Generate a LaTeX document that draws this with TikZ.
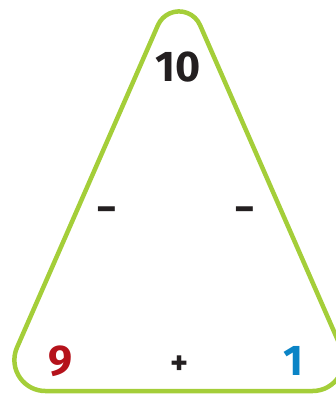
\documentclass[tikz,border=0pt]{standalone}
\usepackage{fontspec}
\setmainfont{Fira Sans}
\definecolor{tgreen}{RGB}{164,206,57}
\definecolor{tred}{RGB}{181,18,27}
\definecolor{tblue}{RGB}{10,132,198}
\definecolor{tblack}{RGB}{35,31,32}
\begin{document}
\begin{tikzpicture}[x=1pt,y=-1pt,
  num/.style={font=\fontsize{43}{43}\selectfont\bfseries, inner sep=0pt, anchor=base, text=tblack},
  sign/.style={font=\fontsize{40}{40}\selectfont\bfseries, inner sep=0pt, anchor=base, text=tblack},
  psign/.style={font=\fontsize{34}{34}\selectfont\bfseries, inner sep=0pt, anchor=base, text=tblack},
  frame/.style={draw=tgreen, line width=4.5pt, line join=round}]
\useasboundingbox (0,0) rectangle (336,395);
\draw[frame] (45.37,391) -- (312.63,391)
  arc[start angle=90, end angle=-23.6, radius=31]
  -- (200.07,25.2)
  arc[start angle=-23.6, end angle=-156.4, radius=23]
  -- (16.96,347.6)
  arc[start angle=203.6, end angle=90, radius=31] -- cycle;
\node[num] (ten) at (178.5,82) {10};
\node[num, text=tred] (nine) at (61,375.5) {9};
\node[num, text=tblue] (one) at (293.5,375.5) {1};
\node[sign] (ml) at (106.7,222) {−};
\node[sign] (mr) at (245.3,222) {−};
\node[psign] (pl) at (180,374) {+};
\end{tikzpicture}
\end{document}
